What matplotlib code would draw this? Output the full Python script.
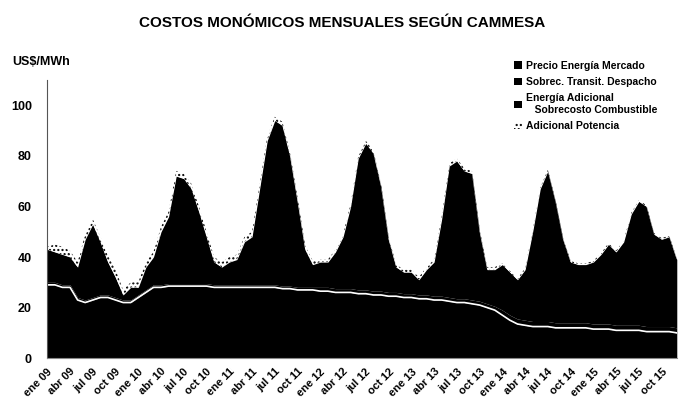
import matplotlib
matplotlib.use("Agg")
import matplotlib.pyplot as plt
import numpy as np

plt.rcParams['font.family'] = ['Liberation Sans', 'DejaVu Sans']

meses = ["ene", "feb", "mar", "abr", "may", "jun", "jul", "ago", "sep", "oct", "nov", "dic"]
anios = ["09", "10", "11", "12", "13", "14", "15"]
etiquetas = [m + " " + a for a in anios for m in meses]

# US$/MWh, ene 09 .. dic 15
precio = [29, 29, 28, 28, 23, 22, 23, 24, 24, 23, 22, 22,
          24, 26, 28, 28, 28.5, 28.5, 28.5, 28.5, 28.5, 28.5, 28, 28,
          28, 28, 28, 28, 28, 28, 28, 27.5, 27.5, 27, 27, 27,
          26.5, 26.5, 26, 26, 26, 25.5, 25.5, 25, 25, 24.5, 24.5, 24,
          24, 23.5, 23.5, 23, 23, 22.5, 22, 22, 21.5, 21, 20, 19,
          17, 15, 13.5, 13, 12.5, 12.5, 12.5, 12, 12, 12, 12, 12,
          11.5, 11.5, 11.5, 11, 11, 11, 11, 10.5, 10.5, 10.5, 10.5, 10]
sobrec = [1, 1, 1, 1, 1, 1, 1, 1, 1, 1, 1, 1,
          1, 1, 1, 1, 1, 1, 1, 1, 1, 1, 1, 1,
          1, 1, 1, 1, 1, 1, 1, 1, 1, 1, 1, 1,
          1.5, 1.5, 1.5, 1.5, 1.5, 1.5, 1.5, 1.5, 1.5, 1.5, 1.5, 1.5,
          1.5, 1.5, 1.5, 1.5, 1.5, 1.5, 1.5, 1.5, 1.5, 1.5, 1.5, 1.5,
          2, 2, 2, 2, 2, 2, 2, 2, 2, 2, 2, 2,
          2, 2, 2, 2, 2, 2, 2, 2, 2, 2, 2, 2]
combustible = [13, 12, 12, 11, 12, 24, 29, 21, 13, 8, 2, 5,
               3, 9, 11, 21, 26.5, 42.5, 41.5, 37.5, 28.5, 18.5, 9, 7,
               9, 10, 17, 19, 38, 57, 65, 63.5, 51.5, 34, 15, 9,
               10, 10, 14.5, 20.5, 32.5, 52, 58, 54.5, 41.5, 21, 10, 8.5,
               8.5, 6, 10, 13.5, 30.5, 52, 54.5, 50.5, 50, 27.5, 13.5, 14.5,
               18, 17, 15.5, 20, 35.5, 52.5, 59.5, 48, 33, 24, 23, 23,
               24.5, 27.5, 31.5, 29, 33, 44, 49, 47.5, 36.5, 34.5, 35.5, 27]
potencia = [1, 3, 3, 2.5, 2, 2, 2, 2, 2.5, 3, 2, 2,
            2, 2, 2, 2, 2, 2, 2, 2, 2, 2, 2, 2,
            2, 2, 2, 2, 1.5, 1.5, 1.5, 1.5, 1.5, 1.5, 1.5, 1.5,
            1, 1, 1, 1, 1, 1, 1, 1, 1, 1, 1, 1,
            1, 1, 1, 1, 1, 1, 1, 1, 1, 1, 1, 1,
            0.5, 0.5, 0.5, 0.5, 0.5, 0.5, 0.5, 0.5, 0.5, 0.5, 0.5, 0.5,
            0.5, 0.5, 0.5, 0.5, 0.5, 0.5, 0.5, 0.5, 0.5, 0.5, 0.5, 0.5]

x = np.arange(len(etiquetas))
precio = np.array(precio)
sobrec = np.array(sobrec)
combustible = np.array(combustible)
potencia = np.array(potencia)

fig = plt.figure(figsize=(6.85, 4.15), dpi=100)
ax = fig.add_axes([0.069, 0.137, 0.919, 0.67])

c1 = precio
c2 = c1 + sobrec
c3 = c2 + combustible
c4 = c3 + potencia

ax.fill_between(x, 0, c1, color="black", lw=0, label="Precio Energía Mercado")
ax.fill_between(x, c1, c2, color="black", lw=0, label="Sobrec. Transit. Despacho")
ax.fill_between(x, c2, c3, color="black", lw=0, label="Energía Adicional\n   Sobrecosto Combustible")
ax.fill_between(x, c3, c4, facecolor="white", edgecolor="black", hatch="....", lw=0,
                label="Adicional Potencia")
ax.plot(x, c1, color="white", lw=1.2)

ax.set_xlim(0, len(x) - 1)
ax.set_ylim(0, 110)
ax.set_yticks([0, 20, 40, 60, 80, 100])
ax.set_yticklabels(["0", "20", "40", "60", "80", "100"], fontweight="bold", fontsize=9)
ax.set_xticks(x[::3])
ax.set_xticklabels(etiquetas[::3], rotation=45, ha="right", rotation_mode="anchor",
                   fontweight="bold", fontsize=8)
ax.tick_params(axis="x", length=0, pad=6)
ax.tick_params(axis="y", length=0, pad=11)
for s in ["top", "right"]:
    ax.spines[s].set_visible(False)
ax.spines["left"].set_color("#555555")
ax.spines["bottom"].set_color("#888888")

fig.text(0.5, 0.945, "COSTOS MONÓMICOS MENSUALES SEGÚN CAMMESA", ha="center",
         va="center", fontweight="bold", fontsize=11)
fig.text(0.018, 0.85, "US$/MWh", ha="left", va="center", fontweight="bold", fontsize=9)

ax.legend(loc="upper left", bbox_to_anchor=(0.742, 1.07), frameon=False,
          prop={"weight": "bold", "size": 7.5}, handlelength=0.7, handleheight=0.7,
          handletextpad=0.4, labelspacing=0.6, borderpad=0, borderaxespad=0)

fig.savefig("out.png", dpi=100)
